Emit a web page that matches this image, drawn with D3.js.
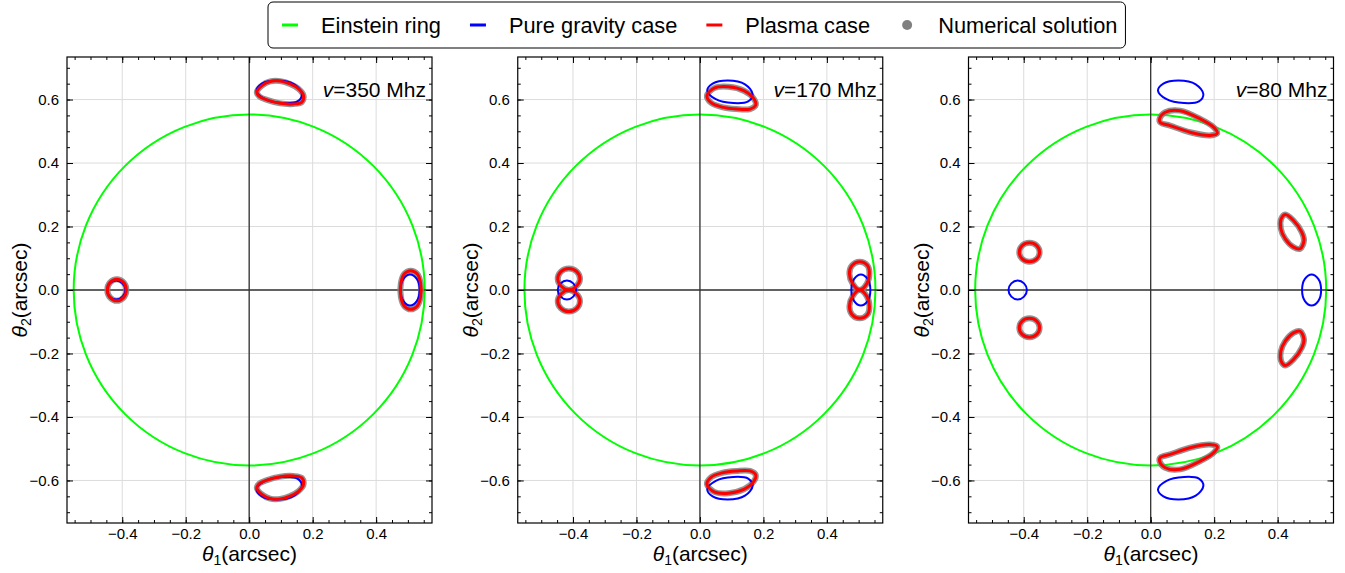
<!DOCTYPE html>
<html>
<head>
<meta charset="utf-8">
<script src="https://cdn.jsdelivr.net/npm/d3@7/dist/d3.min.js"></script>
<style>
  body { margin: 0; background: #fff; }
  text { font-family: "Liberation Sans", Arial, sans-serif; fill: #000; }
</style>
</head>
<body>
<div id="chart"></div>
<script>
// ---- data, all in arcsec ----
var freqLabels = ["350", "170", "80"];
var einsteinRadius = 0.553;
var xTicks = [-0.4, -0.2, 0, 0.2, 0.4];
var yTicks = [-0.6, -0.4, -0.2, 0, 0.2, 0.4, 0.6];
var legendLabels = ["Einstein ring", "Pure gravity case", "Plasma case", "Numerical solution"];

// pure gravity images (the same in all three panels)
var gravityImages = [
  [[0.023,0.628],[0.040,0.650],[0.088,0.660],[0.142,0.648],[0.166,0.617],[0.152,0.594],[0.105,0.589],[0.050,0.601]],
  [[0.023,-0.628],[0.050,-0.601],[0.105,-0.589],[0.152,-0.594],[0.166,-0.617],[0.142,-0.648],[0.088,-0.660],[0.040,-0.650]],
  [[-0.419,0.030],[-0.399,0.021],[-0.390,0],[-0.399,-0.021],[-0.419,-0.030],[-0.439,-0.021],[-0.448,0],[-0.439,0.021]],
  [[0.507,0.049],[0.528,0.035],[0.537,0],[0.528,-0.035],[0.507,-0.049],[0.486,-0.035],[0.477,0],[0.486,0.035]]
];

// plasma images, 350 Mhz
var plasma350 = [
  [[0.024,0.623],[0.040,0.644],[0.066,0.657],[0.098,0.658],[0.129,0.649],[0.155,0.634],[0.171,0.613],[0.166,0.592],[0.139,0.586],[0.098,0.588],[0.056,0.599],[0.033,0.609]],
  [[0.024,-0.623],[0.033,-0.609],[0.056,-0.599],[0.098,-0.588],[0.139,-0.586],[0.166,-0.592],[0.171,-0.613],[0.155,-0.634],[0.129,-0.649],[0.098,-0.658],[0.066,-0.657],[0.040,-0.644]],
  [[-0.417,0.034],[-0.396,0.024],[-0.387,0],[-0.396,-0.024],[-0.417,-0.034],[-0.438,-0.024],[-0.447,0],[-0.438,0.024]],
  [[0.509,0.061],[0.529,0.051],[0.540,0.022],[0.540,-0.022],[0.529,-0.051],[0.509,-0.061],[0.489,-0.051],[0.478,-0.022],[0.478,0.022],[0.489,0.051]]
];

// plasma images, 170 Mhz
var plasma170 = [
  [[0.022,0.612],[0.045,0.636],[0.090,0.640],[0.140,0.627],[0.168,0.605],[0.176,0.583],[0.158,0.570],[0.115,0.570],[0.070,0.576],[0.035,0.590]],
  [[0.022,-0.612],[0.035,-0.590],[0.070,-0.576],[0.115,-0.570],[0.158,-0.570],[0.176,-0.583],[0.168,-0.605],[0.140,-0.627],[0.090,-0.640],[0.045,-0.636]],
  [[-0.413,0.000],[-0.389,0.012],[-0.378,0.034],[-0.388,0.058],[-0.413,0.068],[-0.438,0.058],[-0.448,0.034],[-0.437,0.012]],
  [[-0.413,0.000],[-0.437,-0.012],[-0.448,-0.034],[-0.438,-0.058],[-0.413,-0.068],[-0.388,-0.058],[-0.378,-0.034],[-0.389,-0.012]],
  [[0.503,0.000],[0.526,0.020],[0.534,0.051],[0.528,0.077],[0.503,0.089],[0.479,0.077],[0.471,0.051],[0.481,0.020]],
  [[0.503,0.000],[0.481,-0.020],[0.471,-0.051],[0.479,-0.077],[0.503,-0.089],[0.528,-0.077],[0.534,-0.051],[0.526,-0.020]]
];

// plasma images, 80 Mhz
var plasma80 = [
  [[0.028,0.539],[0.046,0.560],[0.093,0.565],[0.156,0.539],[0.198,0.513],[0.210,0.494],[0.187,0.487],[0.124,0.497],[0.061,0.518],[0.030,0.528]],
  [[0.028,-0.539],[0.030,-0.528],[0.061,-0.518],[0.124,-0.497],[0.187,-0.487],[0.210,-0.494],[0.198,-0.513],[0.156,-0.539],[0.093,-0.565],[0.046,-0.560]],
  [[-0.382,0.149],[-0.359,0.140],[-0.350,0.119],[-0.359,0.098],[-0.382,0.089],[-0.405,0.098],[-0.414,0.119],[-0.405,0.140]],
  [[-0.382,-0.089],[-0.359,-0.098],[-0.350,-0.119],[-0.359,-0.140],[-0.382,-0.149],[-0.405,-0.140],[-0.414,-0.119],[-0.405,-0.098]],
  [[0.424,0.238],[0.450,0.219],[0.476,0.182],[0.483,0.156],[0.471,0.130],[0.450,0.135],[0.424,0.161],[0.410,0.193],[0.411,0.224]],
  [[0.424,-0.238],[0.411,-0.224],[0.410,-0.193],[0.424,-0.161],[0.450,-0.135],[0.471,-0.130],[0.483,-0.156],[0.476,-0.182],[0.450,-0.219]]
];

var plasmaSets = [plasma350, plasma170, plasma80];

// ---- layout ----
var W = 1345, H = 573;
var panelLeft = [67, 517.75, 968.5],
    panelTop = 57,
    pw = 365,
    ph = 466;

var colRing = "#00ff00", colGrav = "#0000ff", colPlasma = "#ff0000", colNum = "#808080";

var svg = d3.select("#chart")
  .append("svg")
    .attr("width", W)
    .attr("height", H);

var x = d3.scaleLinear().domain([-0.574, 0.576]).range([0, pw]);
var y = d3.scaleLinear().domain([-0.734, 0.734]).range([ph, 0]);

var curve = d3.line()
  .x(function(d) { return x(d[0]); })
  .y(function(d) { return y(d[1]); })
  .curve(d3.curveCatmullRomClosed.alpha(0.5));

var fmt = d3.format(".1f");
var xMinor = d3.range(-0.55, 0.56, 0.05);
var yMinor = d3.range(-0.70, 0.71, 0.05);

panelLeft.forEach(function(left, i) {
  var g = svg.append("g")
    .attr("transform", "translate(" + left + "," + panelTop + ")");

  // grid
  g.append("g").selectAll("line").data(xTicks).enter().append("line")
    .attr("x1", function(d) { return x(d); }).attr("x2", function(d) { return x(d); })
    .attr("y1", 0).attr("y2", ph)
    .attr("stroke", "#dcdcdc").attr("stroke-width", 1);
  g.append("g").selectAll("line").data(yTicks).enter().append("line")
    .attr("y1", function(d) { return y(d); }).attr("y2", function(d) { return y(d); })
    .attr("x1", 0).attr("x2", pw)
    .attr("stroke", "#dcdcdc").attr("stroke-width", 1);

  // einstein ring
  g.append("circle")
    .attr("cx", x(0)).attr("cy", y(0))
    .attr("r", x(einsteinRadius) - x(0))
    .attr("fill", "none")
    .attr("stroke", colRing)
    .attr("stroke-width", 2);

  // zero lines
  g.append("line").attr("x1", x(0)).attr("x2", x(0)).attr("y1", 0).attr("y2", ph)
    .attr("stroke", "#333").attr("stroke-width", 1.3);
  g.append("line").attr("y1", y(0)).attr("y2", y(0)).attr("x1", 0).attr("x2", pw)
    .attr("stroke", "#333").attr("stroke-width", 1.3);

  // numerical solution (grey band under the plasma curve)
  g.append("g").selectAll("path").data(plasmaSets[i]).enter().append("path")
    .attr("d", curve)
    .attr("fill", "none")
    .attr("stroke", colNum)
    .attr("stroke-opacity", 0.85)
    .attr("stroke-width", 6);

  // pure gravity
  g.append("g").selectAll("path").data(gravityImages).enter().append("path")
    .attr("d", curve)
    .attr("fill", "none")
    .attr("stroke", colGrav)
    .attr("stroke-width", 2);

  // plasma
  g.append("g").selectAll("path").data(plasmaSets[i]).enter().append("path")
    .attr("d", curve)
    .attr("fill", "none")
    .attr("stroke", colPlasma)
    .attr("stroke-width", 3);

  // ticks, pointing inwards on all four sides
  function ticks(axisFn, scale, values, size, tr, labels, pad) {
    var a = g.append("g")
      .attr("transform", tr)
      .call(axisFn(scale).tickValues(values).tickSize(-size).tickPadding(pad || 3)
        .tickFormat(labels ? fmt : ""));
    a.select(".domain").remove();
    a.selectAll("line").attr("stroke", "#000").attr("stroke-width", 1);
    a.selectAll("text").style("font-size", "15px").attr("font-family", null);
    return a;
  }
  ticks(d3.axisBottom, x, xTicks, 6, "translate(0," + ph + ")", true, 5);
  ticks(d3.axisBottom, x, xMinor, 3, "translate(0," + ph + ")", false);
  ticks(d3.axisTop, x, xTicks, 6, "translate(0,0)", false);
  ticks(d3.axisTop, x, xMinor, 3, "translate(0,0)", false);
  ticks(d3.axisLeft, y, yTicks, 6, "translate(0,0)", true, 8);
  ticks(d3.axisLeft, y, yMinor, 3, "translate(0,0)", false);
  ticks(d3.axisRight, y, yTicks, 6, "translate(" + pw + ",0)", false);
  ticks(d3.axisRight, y, yMinor, 3, "translate(" + pw + ",0)", false);

  // frame
  g.append("rect")
    .attr("width", pw).attr("height", ph)
    .attr("fill", "none")
    .attr("stroke", "#000")
    .attr("stroke-width", 1.2);

  // frequency note
  var note = g.append("text")
    .attr("x", pw - 6).attr("y", 40)
    .attr("text-anchor", "end")
    .style("font-size", "21px");
  note.append("tspan").attr("font-style", "italic").text("v");
  note.append("tspan").text("=" + freqLabels[i] + " Mhz");

  // axis labels
  var xl = g.append("text")
    .attr("x", pw / 2).attr("y", ph + 38)
    .attr("text-anchor", "middle")
    .style("font-size", "21px");
  xl.append("tspan").attr("font-style", "italic").text("θ");
  xl.append("tspan").attr("font-size", "14px").attr("dy", 4).text("1");
  xl.append("tspan").attr("dy", -4).text("(arcsec)");

  var yl = g.append("text")
    .attr("transform", "translate(-40," + (ph / 2) + ") rotate(-90)")
    .attr("text-anchor", "middle")
    .style("font-size", "21px");
  yl.append("tspan").attr("font-style", "italic").text("θ");
  yl.append("tspan").attr("font-size", "14px").attr("dy", 4).text("2");
  yl.append("tspan").attr("dy", -4).text("(arcsec)");
});

// legend
var legColors = [colRing, colGrav, colPlasma, colNum];
var leg = svg.append("g");
var box = leg.append("rect")
  .attr("x", 268).attr("y", 2)
  .attr("height", 46)
  .attr("rx", 5)
  .attr("fill", "#fff")
  .attr("stroke", "#000")
  .attr("stroke-width", 1);
var lx = 282, ly = 25;
legendLabels.forEach(function(lab, i) {
  if (i < 3) {
    leg.append("line")
      .attr("x1", lx).attr("x2", lx + 16)
      .attr("y1", ly).attr("y2", ly)
      .attr("stroke", legColors[i])
      .attr("stroke-width", 3);
  } else {
    leg.append("circle")
      .attr("cx", lx + 8).attr("cy", ly)
      .attr("r", 5)
      .attr("fill", legColors[i]);
  }
  var t = leg.append("text")
    .attr("x", lx + 39).attr("y", ly + 8)
    .style("font-size", "21.8px")
    .text(lab);
  lx += 39 + t.node().getComputedTextLength() + 29;
});
box.attr("width", lx - 29 + 8 - 268);
</script>
</body>
</html>
